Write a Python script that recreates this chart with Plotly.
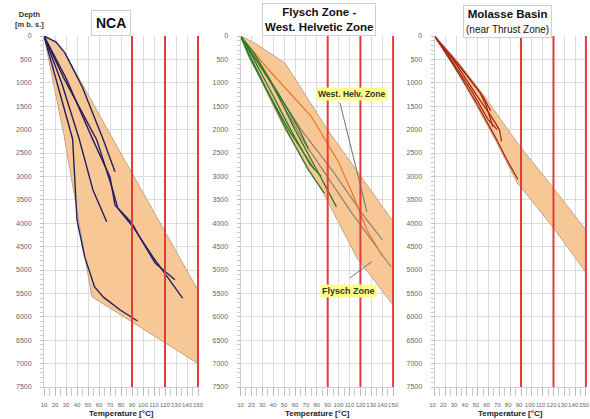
import plotly.graph_objects as go

# ---------------- data ----------------
temp_ticks = list(range(10, 151, 10))
depth_ticks = list(range(0, 7501, 500))
ref_temps = [90, 120, 150]

# NCA envelope and profiles
nca_env_T = [10, 22, 30, 73, 150, 150, 53.5, 28, 10]
nca_env_D = [0, 150, 400, 2220, 5430, 7000, 5570, 2100, 0]
nca_lines = [
    ([10, 23, 36, 40, 47, 56, 64, 79, 95], [0, 1100, 2200, 3930, 4720, 5360, 5580, 5850, 6090]),
    ([10, 26, 42, 54.5, 67], [0, 1000, 2200, 3290, 3970]),
    ([10, 21, 29, 45, 64, 74.5], [0, 130, 360, 1100, 2220, 2900]),
    ([10, 30, 54.5, 70, 74.5, 90, 97, 111, 129], [0, 900, 2220, 3010, 3610, 4000, 4300, 4850, 5210]),
    ([10, 28, 58, 72.5, 77, 91, 109, 122, 136], [0, 900, 2220, 3290, 3680, 4080, 4720, 5150, 5600]),
]

# Flysch Zone - West. Helvetic Zone
fly_env_T = [10, 23.6, 51, 90, 149, 150, 150, 117, 87, 51, 36, 20, 10]
fly_env_D = [0, 156, 583, 2009, 3930, 3950, 5750, 4750, 3400, 2000, 1300, 500, 0]
fly_green = [
    ([10, 20, 36, 56, 74, 84], [0, 400, 1100, 2000, 2750, 3000]),
    ([10, 17, 32, 52, 72, 87], [0, 350, 1050, 2000, 2850, 3360]),
    ([10, 22, 40, 60, 82, 98], [0, 350, 1050, 2000, 2950, 3650]),
    ([10, 18, 34, 54, 68, 78], [0, 450, 1150, 2000, 2500, 2860]),
    ([10, 24, 44, 64, 72], [0, 500, 1200, 2000, 2400]),
]
fly_gray = [
    ([10, 35, 69, 112, 148], [0, 900, 2290, 3780, 4930]),
    ([10, 30, 66, 96, 124, 140], [0, 700, 2010, 2930, 3870, 4350]),
]
fly_orange = [
    ([10, 35, 75, 100, 112.5, 126, 140], [0, 700, 1720, 2700, 3360, 4145, 4700]),
]

# Molasse Basin (near Thrust Zone)
mol_env_T = [10, 30, 55, 88, 120, 150, 150, 120, 86, 67, 36, 20, 10]
mol_env_D = [0, 500, 1250, 2330, 3250, 4150, 5050, 4100, 3120, 2250, 950, 350, 0]
mol_lines = [
    ([10, 30, 50, 62, 70, 72], [0, 600, 1300, 1700, 2000, 2250]),
    ([10, 28, 45, 60, 68], [0, 600, 1200, 1800, 2000]),
    ([10, 32, 52, 58, 64], [0, 600, 1200, 1500, 1940]),
    ([10, 27, 48, 66, 77, 87], [0, 600, 1400, 2150, 2650, 3060]),
    ([10, 35, 55, 62], [0, 700, 1300, 1600]),
]

# ---------------- figure ----------------
W, H = 590, 419
FONT = "Liberation Sans, Arial, sans-serif"
fill_col = "#f8c796"
edge_col = "#b3957a"

x_dom = [(44 / W, 199.1 / W), (240.5 / W, 394.2 / W), (434.5 / W, 587 / W)]
y_dom = (1 - 387 / H, 1 - 36 / H)

fig = go.Figure()


def add_env(T, D, k):
    fig.add_trace(go.Scatter(x=T, y=D, mode="lines", fill="toself", fillcolor=fill_col,
                             line=dict(color=edge_col, width=0.8), xaxis=f"x{k}", yaxis=f"y{k}",
                             hoverinfo="skip", showlegend=False))


def add_lines(lines, k, color, width=1.4):
    for T, D in lines:
        fig.add_trace(go.Scatter(x=T, y=D, mode="lines", line=dict(color=color, width=width),
                                 xaxis=f"x{k}", yaxis=f"y{k}", showlegend=False))


add_env(nca_env_T, nca_env_D, "")
add_lines(nca_lines, "", "#241f5e", 1.4)
add_env(fly_env_T, fly_env_D, 2)
add_lines(fly_gray, 2, "#8a7f6e", 1.1)
add_lines(fly_orange, 2, "#e8762c", 1.2)
add_lines(fly_green, 2, "#2f7a2a", 1.3)
add_env(mol_env_T, mol_env_D, 3)
add_lines(mol_lines, 3, "#a52a1a", 1.3)

layout = dict(width=W, height=H, margin=dict(l=0, r=0, t=0, b=0),
              paper_bgcolor="white", plot_bgcolor="white", showlegend=False,
              font=dict(family=FONT, color="#555"))

for i in range(3):
    sx = "" if i == 0 else str(i + 1)
    layout[f"xaxis{sx}"] = dict(
        domain=list(x_dom[i]), anchor=f"y{sx}", range=[10, 151], automargin=False,
        tickvals=temp_ticks, ticktext=[str(t) for t in temp_ticks], tickangle=0,
        ticklabeloverflow="allow", ticklabelshift=(-2 if i == 2 else 0),
        tickfont=dict(size=6, color="#666"), ticks="outside", ticklen=8, tickcolor="#bbb",
        ticklabelstandoff=4,
        minor=dict(dtick=5, ticks="outside", ticklen=8, tickcolor="#ccc", showgrid=False),
        showgrid=True, gridcolor="#dcdcdc", gridwidth=1, zeroline=False,
        showline=True, linecolor="#cfcfcf", mirror=False, fixedrange=True)
    layout[f"yaxis{sx}"] = dict(
        domain=list(y_dom), anchor=f"x{sx}", range=[7500, 0], automargin=False,
        tickvals=depth_ticks, ticktext=[str(d) for d in depth_ticks],
        tickfont=dict(size=7, color="#666"), ticks="outside", ticklen=3, tickcolor="#bbb",
        ticklabelstandoff=7,
        minor=dict(dtick=100, ticks="outside", ticklen=3, tickcolor="#ccc", showgrid=False),
        showgrid=True, gridcolor="#dcdcdc", gridwidth=1, zeroline=False,
        showline=True, linecolor="#cfcfcf", fixedrange=True)

fig.update_layout(**layout)

# red reference lines
shapes = []
for i in range(3):
    sx = "" if i == 0 else str(i + 1)
    for t in ref_temps:
        shapes.append(dict(type="line", xref=f"x{sx}", yref=f"y{sx} domain", x0=t, x1=t, y0=0, y1=1,
                           line=dict(color="#e23b3b", width=2), layer="above"))
# pointer lines for labels (panel 2)
shapes.append(dict(type="line", xref="x2", yref="y2", x0=101.3, y0=1432, x1=126, y1=3760,
                   line=dict(color="#6f6f6f", width=1)))
shapes.append(dict(type="line", xref="x2", yref="y2", x0=110.4, y0=5171, x1=130.4, y1=4823,
                   line=dict(color="#6f6f6f", width=1)))
fig.update_layout(shapes=shapes)

ann = []


def pa(x, y, text, size, bold=True, color="#111", **kw):
    t = f"<b>{text}</b>" if bold else text
    d = dict(xref="paper", yref="paper", x=x / W, y=1 - y / H, text=t, showarrow=False,
             font=dict(family=FONT, size=size, color=color), xanchor="center", yanchor="middle")
    d.update(kw)
    ann.append(d)


# panel titles
pa(111, 23, "NCA", 14, bgcolor="white", bordercolor="#cfcfcf", borderwidth=1, borderpad=4)
pa(319, 19.5, "Flysch Zone -<br>West. Helvetic Zone", 11.5, bgcolor="white",
   bordercolor="#cfcfcf", borderwidth=1, borderpad=2)
pa(507, 21, "<b>Molasse Basin</b><br><span style='font-size:10px'>(near Thrust Zone)</span>", 11.5,
   bold=False, bgcolor="white", bordercolor="#cfcfcf", borderwidth=1, borderpad=2)
# depth label
pa(29, 20, "Depth<br>[m b. s.]", 7.5, color="#333")
# temperature labels
for i in range(3):
    cx = (x_dom[i][0] + x_dom[i][1]) / 2 * W
    pa(cx, 413, "Temperature [°C]", 8, color="#222")
# zone labels
pa(352, 94, "West. Helv. Zone", 8.5, color="#333", bgcolor="#ffff88", borderpad=1)
pa(348, 291, "Flysch Zone", 9, color="#333", bgcolor="#ffff88", borderpad=1)

fig.update_layout(annotations=ann)
fig.write_html("out.html", config={"displayModeBar": False},
               post_script="document.body.style.margin='0';document.body.style.overflow='hidden';")
